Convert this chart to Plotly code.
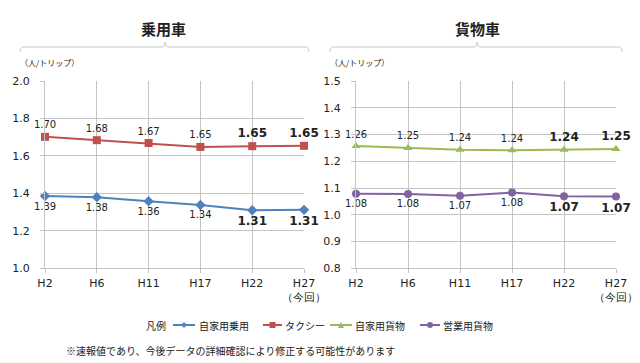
import plotly.graph_objects as go

W, H = 640, 363

categories = ["H2", "H6", "H11", "H17", "H22", "H27<br>（今回）"]

# 乗用車
private_car = [1.386, 1.380, 1.358, 1.338, 1.310, 1.312]
taxi = [1.702, 1.684, 1.669, 1.648, 1.652, 1.654]
# 貨物車
private_truck = [1.257, 1.250, 1.243, 1.241, 1.243, 1.246]
business_truck = [1.079, 1.078, 1.071, 1.083, 1.069, 1.068]

left_ticks = [1.0, 1.2, 1.4, 1.6, 1.8, 2.0]
right_ticks = [0.8, 0.9, 1.0, 1.1, 1.2, 1.3, 1.4, 1.5]

names = ["自家用乗用", "タクシー", "自家用貨物", "営業用貨物"]
colors = ["#4F81BD", "#C0504D", "#9BBB59", "#8064A2"]
symbols = ["diamond", "square", "triangle-up", "circle"]

JP = "Noto Sans CJK JP"
NUM = "DejaVu Sans"
BOLD_FROM = 4  # H22 and H27 are shown in bold


def labels(vals):
    out = []
    for i, v in enumerate(vals):
        s = f"{v:.2f}"
        out.append(f"<b>{s}</b>" if i >= BOLD_FROM else s)
    return out


def sizes(vals):
    return [10 if i < BOLD_FROM else 12 for i in range(len(vals))]


xs = list(range(len(categories)))

fig = go.Figure()
series = [
    (private_car, "x", "y", "bottom center"),
    (taxi, "x", "y", "top center"),
    (private_truck, "x2", "y2", "top center"),
    (business_truck, "x2", "y2", "bottom center"),
]
for k, (vals, xa, ya, tp) in enumerate(series):
    fig.add_trace(go.Scatter(
        x=xs, y=vals, xaxis=xa, yaxis=ya, name=names[k],
        mode="lines+markers+text",
        line=dict(color=colors[k], width=2),
        marker=dict(symbol=symbols[k], size=8, color=colors[k]),
        text=labels(vals), textposition=tp,
        textfont=dict(family=NUM, size=sizes(vals), color="#222"),
        cliponaxis=False, showlegend=False,
    ))


def px(x):
    return x / W


def py(y):
    return 1 - y / H


grid = "#c4c4c4"
xcommon = dict(
    range=[0, 5], tickmode="array", tickvals=xs, ticktext=categories,
    showgrid=True, gridcolor=grid, gridwidth=1,
    showline=True, linecolor=grid, ticks="outside", ticklen=4, tickcolor=grid,
    tickfont=dict(family=NUM, size=11, color="#222"), zeroline=False,
    fixedrange=True,
)
ycommon = dict(
    showgrid=True, gridcolor=grid, gridwidth=1,
    showline=True, linecolor=grid, ticks="outside", ticklen=4, tickcolor=grid,
    tickfont=dict(family=NUM, size=11, color="#222"), zeroline=False,
    domain=[py(268.3), py(81)], tickformat=".1f", ticklabelstandoff=8,
)

fig.update_layout(
    width=W, height=H, autosize=False,
    margin=dict(l=0, r=0, t=0, b=0, autoexpand=False),
    paper_bgcolor="white", plot_bgcolor="white",
    xaxis=dict(xcommon, domain=[px(45), px(304)], anchor="y"),
    yaxis=dict(ycommon, range=[1.0, 2.0], tickvals=left_ticks, anchor="x"),
    xaxis2=dict(xcommon, domain=[px(356), px(616)], anchor="y2"),
    yaxis2=dict(ycommon, range=[0.8, 1.5], tickvals=right_ticks, anchor="x2"),
    showlegend=False,
)


def bracket(x0, xc, x1):
    y0, ym, yt = 52, 47, 42
    r = 4
    path = (f"M {px(x0)},{py(y0)} Q {px(x0)},{py(ym)} {px(x0 + r)},{py(ym)} "
            f"L {px(xc - r)},{py(ym)} Q {px(xc)},{py(ym)} {px(xc)},{py(yt)} "
            f"Q {px(xc)},{py(ym)} {px(xc + r)},{py(ym)} "
            f"L {px(x1 - r)},{py(ym)} Q {px(x1)},{py(ym)} {px(x1)},{py(y0)}")
    return dict(type="path", xref="paper", yref="paper", path=path,
                line=dict(color="#c8c8c8", width=1))


shapes = [bracket(20, 165, 309), bracket(330, 477, 622)]

# custom legend (decoration)
LY = 325
legend_items = [(173, 195, 197), (263, 282, 283), (330, 352, 353), (420, 440, 441)]
annotations = []
for k, (l0, l1, tx) in enumerate(legend_items):
    shapes.append(dict(type="line", xref="paper", yref="paper",
                       x0=px(l0), x1=px(l1), y0=py(LY), y1=py(LY),
                       line=dict(color=colors[k], width=2)))
    cx = (l0 + l1) / 2
    s = 3
    if symbols[k] == "diamond":
        shapes.append(dict(type="path", xref="paper", yref="paper",
                           path=f"M {px(cx - s)},{py(LY)} L {px(cx)},{py(LY - s)} L {px(cx + s)},{py(LY)} L {px(cx)},{py(LY + s)} Z",
                           fillcolor=colors[k], line=dict(color=colors[k], width=0)))
    elif symbols[k] == "square":
        shapes.append(dict(type="rect", xref="paper", yref="paper",
                           x0=px(cx - s), x1=px(cx + s), y0=py(LY + s), y1=py(LY - s),
                           fillcolor=colors[k], line=dict(color=colors[k], width=0)))
    elif symbols[k] == "triangle-up":
        shapes.append(dict(type="path", xref="paper", yref="paper",
                           path=f"M {px(cx - s)},{py(LY + s)} L {px(cx)},{py(LY - s)} L {px(cx + s)},{py(LY + s)} Z",
                           fillcolor=colors[k], line=dict(color=colors[k], width=0)))
    else:
        shapes.append(dict(type="circle", xref="paper", yref="paper",
                           x0=px(cx - s), x1=px(cx + s), y0=py(LY + s), y1=py(LY - s),
                           fillcolor=colors[k], line=dict(color=colors[k], width=0)))
    annotations.append(dict(text=names[k], x=px(tx), y=py(LY), xref="paper", yref="paper",
                            xanchor="left", yanchor="middle", showarrow=False,
                            font=dict(family=JP, size=10, color="#222")))
annotations.append(dict(text="凡例", x=px(144), y=py(LY), xref="paper", yref="paper",
                        xanchor="left", yanchor="middle", showarrow=False,
                        font=dict(family=JP, size=10, color="#222")))

fig.update_layout(shapes=shapes)

for text, x in (("乗用車", 163), ("貨物車", 477)):
    annotations.append(dict(text=f"<b>{text}</b>", x=px(x), y=py(28), xref="paper", yref="paper",
                            xanchor="center", yanchor="middle", showarrow=False,
                            font=dict(family=JP, size=15, color="#222")))
for xu in (18, 328):
    annotations.append(dict(text="（人/トリップ）", x=px(xu), y=py(63), xref="paper", yref="paper",
                            xanchor="left", yanchor="middle", showarrow=False,
                            font=dict(family=JP, size=8, color="#222")))
annotations.append(dict(text="※速報値であり、今後データの詳細確認により修正する可能性があります",
                        x=px(64), y=py(350), xref="paper", yref="paper",
                        xanchor="left", yanchor="middle", showarrow=False,
                        font=dict(family=JP, size=10, color="#222")))
fig.update_layout(annotations=annotations)

fig.write_html("out.html", config={"displayModeBar": False},
               post_script="document.body.style.margin='0px';document.body.style.overflow='hidden';")
